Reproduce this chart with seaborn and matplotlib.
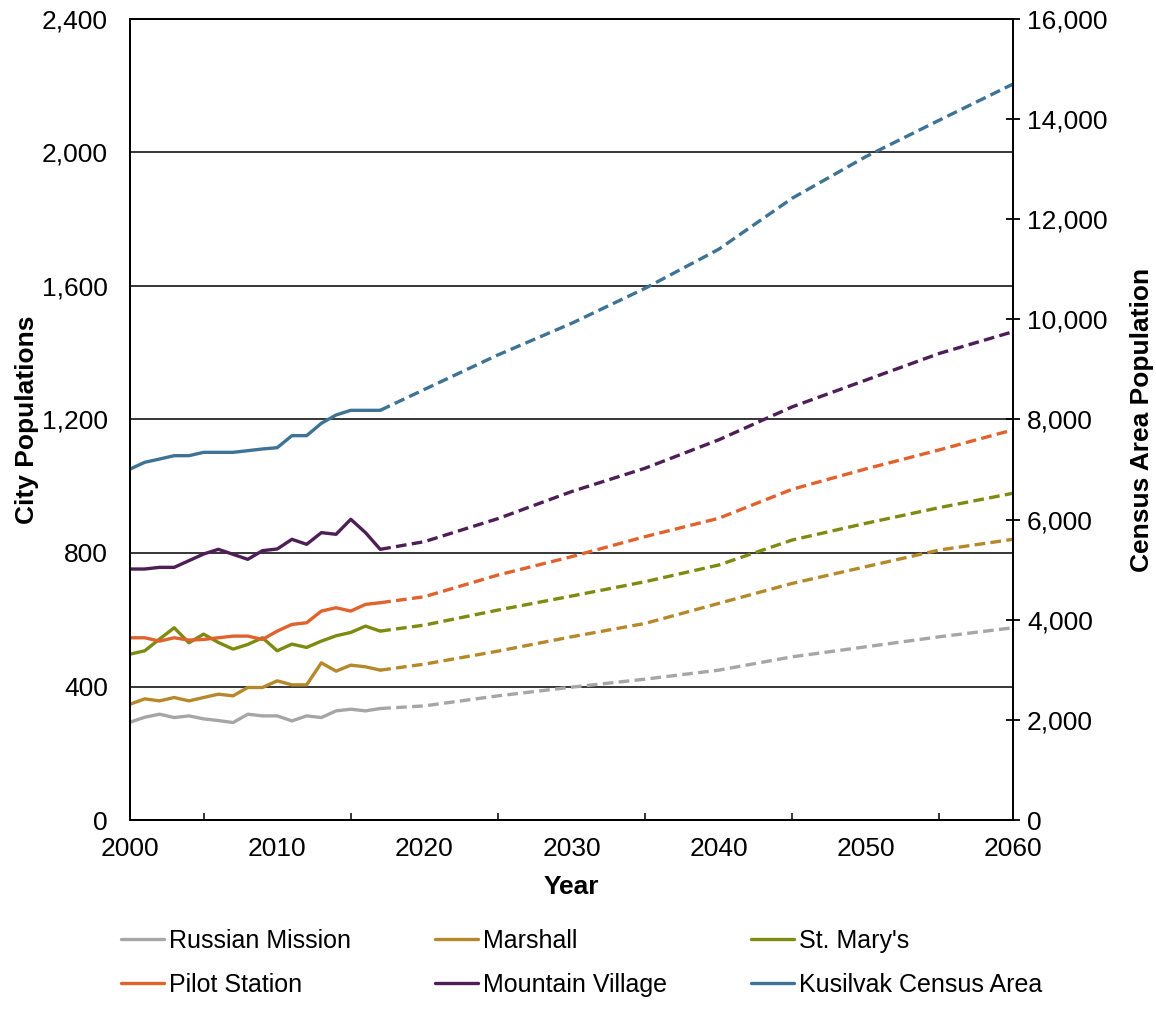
import matplotlib
matplotlib.use("Agg")
import matplotlib.pyplot as plt
from matplotlib.lines import Line2D
from matplotlib.ticker import FuncFormatter, MultipleLocator
import pandas as pd
import seaborn as sns

# historical estimates, 2000-2017
hist_years = list(range(2000, 2018))
russian_mission = [293, 308, 317, 307, 312, 303, 298, 292, 317, 312, 312, 297, 312, 307, 327, 332, 327, 334]
marshall = [347, 363, 357, 367, 357, 367, 377, 372, 397, 397, 417, 405, 405, 471, 446, 464, 459, 449]
st_marys = [497, 507, 542, 576, 531, 557, 532, 512, 526, 546, 507, 527, 517, 536, 552, 562, 581, 566]
pilot_station = [546, 546, 536, 546, 539, 541, 546, 551, 551, 541, 566, 586, 591, 626, 636, 626, 646, 651]
mountain_village = [752, 752, 757, 757, 777, 797, 811, 796, 781, 807, 812, 841, 826, 861, 856, 901, 861, 811]
kusilvak = [7010, 7145, 7210, 7277, 7277, 7344, 7344, 7344, 7377, 7411, 7437, 7677, 7677, 7924, 8090, 8183, 8183, 8183]

# projections, 2017-2060
proj_years = [2017, 2020, 2025, 2030, 2035, 2040, 2045, 2050, 2055, 2060]
russian_mission_proj = [334, 342, 372, 398, 422, 449, 489, 519, 549, 576]
marshall_proj = [449, 467, 506, 549, 589, 649, 709, 759, 809, 841]
st_marys_proj = [566, 584, 629, 671, 714, 764, 839, 889, 936, 979]
pilot_station_proj = [651, 669, 734, 789, 849, 904, 991, 1052, 1109, 1169]
mountain_village_proj = [811, 834, 903, 984, 1054, 1139, 1238, 1318, 1398, 1463]
kusilvak_proj = [8183, 8600, 9290, 9920, 10620, 11400, 12420, 13250, 13980, 14700]

cities = ["Russian Mission", "Marshall", "St. Mary's", "Pilot Station", "Mountain Village"]
colors = {"Russian Mission": "#A6A6A6", "Marshall": "#B5892A", "St. Mary's": "#7E8A10",
          "Pilot Station": "#E0622C", "Mountain Village": "#4E1E56",
          "Kusilvak Census Area": "#3E7396"}

hist = pd.DataFrame({"Year": hist_years, "Russian Mission": russian_mission, "Marshall": marshall,
                     "St. Mary's": st_marys, "Pilot Station": pilot_station,
                     "Mountain Village": mountain_village})
proj = pd.DataFrame({"Year": proj_years, "Russian Mission": russian_mission_proj, "Marshall": marshall_proj,
                     "St. Mary's": st_marys_proj, "Pilot Station": pilot_station_proj,
                     "Mountain Village": mountain_village_proj})
hist_long = hist.melt(id_vars="Year", var_name="City", value_name="Population")
proj_long = proj.melt(id_vars="Year", var_name="City", value_name="Population")

sns.set_style("white")
plt.rcParams["font.family"] = ["Liberation Sans", "DejaVu Sans"]
plt.rcParams["text.color"] = "black"
plt.rcParams["axes.labelcolor"] = "black"
fs = 19

fig = plt.figure(figsize=(11.56, 10.09), dpi=100)
ax = fig.add_axes([0.1125, 0.1873, 0.7638, 0.7939])
ax2 = ax.twinx()

lw = 2.4
dash = (3.2, 1.6)
sns.lineplot(data=hist_long, x="Year", y="Population", hue="City", hue_order=cities,
             palette=colors, linewidth=lw, legend=False, ax=ax)
sns.lineplot(data=proj_long, x="Year", y="Population", hue="City", hue_order=cities,
             palette=colors, linewidth=lw, legend=False, ax=ax)
for ln in ax.get_lines()[len(cities):]:
    ln.set_dashes(dash)

sns.lineplot(x=hist_years, y=kusilvak, color=colors["Kusilvak Census Area"], linewidth=lw, ax=ax2)
sns.lineplot(x=proj_years, y=kusilvak_proj, color=colors["Kusilvak Census Area"], linewidth=lw, ax=ax2)
ax2.get_lines()[-1].set_dashes(dash)

ax.set_xlim(2000, 2060)
ax.set_ylim(0, 2400)
ax2.set_ylim(0, 16000)
ax.xaxis.set_major_locator(MultipleLocator(10))
ax.xaxis.set_minor_locator(MultipleLocator(5))
ax.yaxis.set_major_locator(MultipleLocator(400))
ax2.yaxis.set_major_locator(MultipleLocator(2000))
comma = FuncFormatter(lambda v, p: f"{int(v):,}")
ax.yaxis.set_major_formatter(comma)
ax2.yaxis.set_major_formatter(comma)

for a in (ax, ax2):
    for s in a.spines.values():
        s.set_color("black")
        s.set_linewidth(1.3)

ax.yaxis.grid(True, color="black", linewidth=1.1)
ax.set_axisbelow(True)
ax.tick_params(axis="y", left=False, labelsize=fs, pad=12.5, colors="black")
ax.tick_params(axis="x", which="major", direction="inout", length=9, width=1.3,
               labelsize=fs, pad=8, colors="black")
ax.tick_params(axis="x", which="minor", direction="in", length=5, width=1.3, bottom=True)
ax2.tick_params(axis="y", right=True, direction="inout", length=10, width=1.3,
                labelsize=fs, pad=5, colors="black")
ax2.grid(False)

ax.set_xlabel("Year", fontsize=fs, fontweight="bold", labelpad=9.5, color="black")
ax.set_ylabel("City Populations", fontsize=fs, fontweight="bold", labelpad=2, color="black")
ax2.set_ylabel("Census Area Population", fontsize=fs, fontweight="bold", labelpad=16, color="black")

order = ["Russian Mission", "Pilot Station", "Marshall", "Mountain Village", "St. Mary's",
         "Kusilvak Census Area"]
handles = [Line2D([], [], color=colors[n], linewidth=lw) for n in order]
fig.legend(handles, order, loc="upper left", bbox_to_anchor=(0.0856, 0.102), ncol=3,
           frameon=False, fontsize=18, handlelength=1.72, handletextpad=0.2,
           columnspacing=3.35, labelspacing=0.8, labelcolor="black")

fig.savefig("out.png", dpi=100)
